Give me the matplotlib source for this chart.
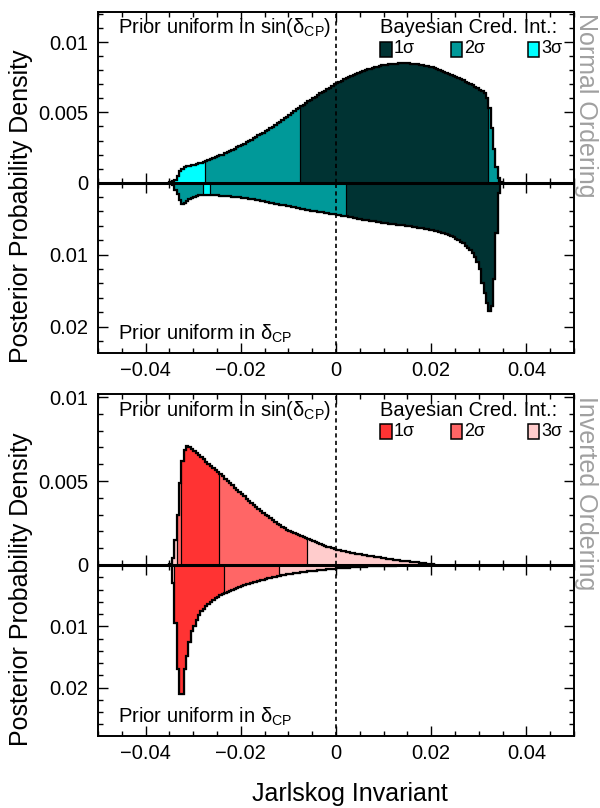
import numpy as np
import matplotlib
matplotlib.use('Agg')
import matplotlib.pyplot as plt
from matplotlib.patches import Rectangle
from matplotlib.ticker import MultipleLocator, FuncFormatter

plt.rcParams['font.family'] = ['Liberation Sans', 'DejaVu Sans']
plt.rcParams['mathtext.fontset'] = 'custom'
plt.rcParams['mathtext.rm'] = 'Liberation Sans'
plt.rcParams['mathtext.it'] = 'Liberation Sans:italic'
plt.rcParams['mathtext.bf'] = 'Liberation Sans:bold'

BIN_W = 0.0005

# posterior density per bin, in units of 1e-3 (bins of BIN_W from the start edge)
# normal ordering, prior uniform in sin(dcp)
no_sin_start = -0.0350
no_sin = [0.05, 0.10, 0.20, 0.50, 0.80, 1.00, 1.10, 1.16, 1.20, 1.24,
          1.28, 1.32, 1.37, 1.42, 1.48, 1.54, 1.60, 1.67, 1.73, 1.80,
          1.86, 1.93, 2.00, 2.08, 2.16, 2.24, 2.32, 2.42, 2.51, 2.60,
          2.69, 2.78, 2.88, 2.97, 3.06, 3.16, 3.26, 3.36, 3.46, 3.56,
          3.66, 3.76, 3.87, 3.99, 4.11, 4.23, 4.35, 4.47, 4.59, 4.70,
          4.83, 4.96, 5.09, 5.22, 5.35, 5.46, 5.57, 5.69, 5.80, 5.91,
          6.03, 6.14, 6.25, 6.36, 6.47, 6.57, 6.68, 6.78, 6.88, 7.00,
          7.09, 7.18, 7.27, 7.36, 7.45, 7.53, 7.61, 7.69, 7.76, 7.84,
          7.91, 7.98, 8.03, 8.08, 8.13, 8.18, 8.23, 8.28, 8.33, 8.36,
          8.39, 8.41, 8.43, 8.45, 8.47, 8.49, 8.50, 8.51, 8.51, 8.51,
          8.50, 8.49, 8.47, 8.46, 8.44, 8.41, 8.38, 8.35, 8.31, 8.27,
          8.22, 8.16, 8.10, 8.04, 7.98, 7.92, 7.85, 7.78, 7.70, 7.62,
          7.54, 7.46, 7.38, 7.29, 7.20, 7.11, 7.03, 6.94, 6.85, 6.74,
          6.64, 6.52, 6.40, 6.05, 5.30, 3.90, 2.40, 1.10, 0.30, 0.05]
no_sin_ci = [(-0.035, -0.0275, 3), (-0.0275, -0.0075, 2), (-0.0075, 0.032, 1),
             (0.032, 0.034, 2), (0.034, 0.035, 3)]

# normal ordering, prior uniform in dcp
no_dcp_start = -0.0350
no_dcp = [0.10, 0.40, 1.00, 1.60, 2.40, 2.95, 2.85, 2.60, 2.35, 2.15,
          1.98, 1.88, 1.80, 1.74, 1.71, 1.69, 1.69, 1.70, 1.73, 1.76,
          1.79, 1.82, 1.85, 1.88, 1.91, 1.94, 1.97, 2.00, 2.04, 2.08,
          2.12, 2.16, 2.20, 2.25, 2.30, 2.35, 2.40, 2.46, 2.53, 2.59,
          2.66, 2.72, 2.79, 2.86, 2.93, 2.99, 3.06, 3.12, 3.19, 3.26,
          3.33, 3.39, 3.46, 3.52, 3.59, 3.66, 3.72, 3.79, 3.84, 3.90,
          3.95, 4.00, 4.06, 4.11, 4.16, 4.21, 4.26, 4.31, 4.36, 4.41,
          4.48, 4.54, 4.60, 4.65, 4.71, 4.77, 4.83, 4.90, 4.96, 5.02,
          5.08, 5.14, 5.19, 5.25, 5.30, 5.35, 5.40, 5.46, 5.51, 5.56,
          5.61, 5.65, 5.70, 5.74, 5.79, 5.84, 5.88, 5.93, 5.97, 6.02,
          6.06, 6.11, 6.16, 6.21, 6.26, 6.31, 6.36, 6.41, 6.47, 6.53,
          6.60, 6.68, 6.77, 6.87, 6.97, 7.08, 7.20, 7.33, 7.47, 7.62,
          7.78, 7.98, 8.20, 8.45, 8.75, 9.05, 9.40, 9.80, 10.3, 11.0,
          12.0, 13.9, 15.3, 16.8, 17.9, 17.2, 13.4, 7.0, 1.4]
no_dcp_ci = [(-0.035, -0.028, 2), (-0.028, -0.0265, 3), (-0.0265, 0.002, 2),
             (0.002, 0.0345, 1)]

# inverted ordering, prior uniform in sin(dcp)
io_sin_start = -0.0350
io_sin = [0.05, 0.40, 1.50, 3.00, 4.86, 6.20, 6.85, 7.08, 7.04, 6.93,
          6.80, 6.68, 6.55, 6.42, 6.29, 6.16, 6.03, 5.90, 5.77, 5.65,
          5.53, 5.40, 5.27, 5.14, 5.01, 4.88, 4.74, 4.61, 4.47, 4.34,
          4.21, 4.08, 3.95, 3.83, 3.71, 3.59, 3.47, 3.35, 3.23, 3.12,
          3.00, 2.89, 2.78, 2.67, 2.56, 2.46, 2.37, 2.28, 2.19, 2.11,
          2.03, 1.96, 1.89, 1.83, 1.77, 1.71, 1.65, 1.59, 1.53, 1.47,
          1.41, 1.36, 1.30, 1.25, 1.20, 1.15, 1.10, 1.05, 1.00, 0.95,
          0.90, 0.87, 0.84, 0.81, 0.78, 0.76, 0.73, 0.70, 0.68, 0.65,
          0.63, 0.61, 0.58, 0.56, 0.54, 0.51, 0.49, 0.47, 0.45, 0.42,
          0.40, 0.38, 0.36, 0.34, 0.32, 0.30, 0.28, 0.26, 0.24, 0.22,
          0.21, 0.19, 0.18, 0.17, 0.15, 0.14, 0.12, 0.10, 0.08, 0.06,
          0.04, 0.02]
io_sin_ci = [(-0.035, -0.0335, 3), (-0.0335, -0.0325, 2), (-0.0325, -0.0245, 1),
             (-0.0245, -0.006, 2), (-0.006, 0.021, 3)]

# inverted ordering, prior uniform in dcp
io_dcp_start = -0.0350
io_dcp = [0.0, 3.0, 9.5, 17.0, 21.1, 21.1, 17.0, 14.9, 12.5, 10.8,
          10.0, 8.9, 8.1, 7.55, 7.1, 6.7, 6.35, 6.0, 5.7, 5.42,
          5.17, 4.93, 4.72, 4.57, 4.40, 4.23, 4.06, 3.90, 3.74, 3.58,
          3.43, 3.29, 3.17, 3.05, 2.93, 2.81, 2.70, 2.59, 2.48, 2.38,
          2.28, 2.19, 2.10, 2.01, 1.93, 1.85, 1.73, 1.66, 1.60, 1.53,
          1.47, 1.41, 1.36, 1.31, 1.26, 1.21, 1.16, 1.11, 1.06, 1.00,
          0.96, 0.92, 0.88, 0.84, 0.80, 0.76, 0.72, 0.68, 0.64, 0.60,
          0.55, 0.52, 0.49, 0.46, 0.43, 0.41, 0.38, 0.36, 0.34, 0.32,
          0.30, 0.28, 0.26, 0.24, 0.22, 0.21, 0.19, 0.18, 0.16, 0.15,
          0.14, 0.13, 0.11, 0.10, 0.09, 0.08, 0.07, 0.06, 0.05, 0.04,
          0.03, 0.02]
io_dcp_ci = [(-0.035, -0.034, 3), (-0.034, -0.0235, 1), (-0.0235, -0.012, 2),
             (-0.012, 0.016, 3)]

no_colors = ['#003333', '#009999', '#00ffff']
io_colors = ['#ff3333', '#ff6666', '#ffcccc']
sigma_labels = ['1\u03c3', '2\u03c3', '3\u03c3']

W, H = 600, 808


def px_axes(fig, top, bottom, left=98, right=574):
    return fig.add_axes([left / W, 1 - bottom / H, (right - left) / W, (bottom - top) / H])


def fmt_tick(v, pos):
    if abs(v) < 1e-12:
        return '0'
    return ('%g' % v).replace('-', '\u2212')


def fmt_lower(v, pos):
    if abs(v) < 1e-12:
        return ''
    return fmt_tick(v, pos)


def draw_hist(ax, start, vals, ci, colors):
    vals = np.asarray(vals) * 1e-3
    edges = start + BIN_W * np.arange(len(vals) + 1)
    centers = 0.5 * (edges[:-1] + edges[1:])
    for x0, x1, level in ci:
        sel = np.where((centers > x0) & (centers < x1))[0]
        if len(sel) == 0:
            continue
        seg_v = vals[sel]
        seg_e = edges[sel[0]:sel[-1] + 2]
        ax.stairs(seg_v, seg_e, baseline=0, fill=True, color=colors[level - 1], lw=0, zorder=2)
        ax.stairs(seg_v, seg_e, baseline=0, fill=False, color='black', lw=0.8, zorder=3)
    ax.stairs(vals, edges, baseline=0, fill=False, color='black', lw=1.6, zorder=3)


def setup(ax, ymax, upper, major, minor, xlabels):
    ax.set_xlim(-0.05, 0.05)
    if upper:
        ax.set_ylim(0, ymax)
        ax.yaxis.set_major_formatter(FuncFormatter(fmt_tick))
    else:
        ax.set_ylim(ymax, 0)
        ax.yaxis.set_major_formatter(FuncFormatter(fmt_lower))
    ax.xaxis.set_major_formatter(FuncFormatter(fmt_tick))
    ax.xaxis.set_major_locator(MultipleLocator(0.02))
    ax.xaxis.set_minor_locator(MultipleLocator(0.005))
    ax.yaxis.set_major_locator(MultipleLocator(major))
    ax.yaxis.set_minor_locator(MultipleLocator(minor))
    ax.tick_params(which='both', direction='in', top=True, right=True,
                   bottom=True, left=True, labelsize=14.5, width=1)
    ax.tick_params(which='major', length=7)
    ax.tick_params(which='minor', length=3.5)
    ax.tick_params(axis='x', labelbottom=xlabels, pad=6)
    ax.tick_params(axis='y', pad=7)
    for sp in ax.spines.values():
        sp.set_linewidth(1.4)
    ax.axvline(0, color='black', lw=1.2, ls=(0, (2.5, 2)), zorder=4)
    ax.axhline(0, color='black', lw=2.2, zorder=5)


def legend(ax, colors):
    ax.text(0.964, 0.873, 'Bayesian Cred. Int.:', transform=ax.transAxes,
            ha='right', va='baseline', fontsize=14.5)
    box_x = [0.5924, 0.741, 0.9027]
    for bx, c, lab in zip(box_x, colors, sigma_labels):
        ax.add_patch(Rectangle((bx, 0.7365), 0.0246, 0.088, transform=ax.transAxes,
                               facecolor=c, edgecolor='black', lw=1.1, zorder=6))
        ax.text(bx + 0.029, 0.7564, lab, transform=ax.transAxes,
                ha='left', va='baseline', fontsize=13)


fig = plt.figure(figsize=(W / 100, H / 100), dpi=100)

panels = [
    # top, zero, bottom, upper max, lower max, data..., colours, side label
    (11.7, 182.5, 353, 0.0122, 0.02368,
     (no_sin_start, no_sin, no_sin_ci), (no_dcp_start, no_dcp, no_dcp_ci),
     no_colors, 'Normal Ordering'),
    (394, 565, 736, 0.01018, 0.0279,
     (io_sin_start, io_sin, io_sin_ci), (io_dcp_start, io_dcp, io_dcp_ci),
     io_colors, 'Inverted Ordering'),
]

for top, zero, bottom, umax, lmax, sin_d, dcp_d, colors, side in panels:
    ax_u = px_axes(fig, top, zero)
    ax_l = px_axes(fig, zero, bottom)
    draw_hist(ax_u, sin_d[0], sin_d[1], sin_d[2], colors)
    draw_hist(ax_l, dcp_d[0], dcp_d[1], dcp_d[2], colors)
    setup(ax_u, umax, True, 0.005, 0.001, False)
    setup(ax_l, lmax, False, 0.01, 0.002, True)

    ax_u.text(0.042, 0.873, 'Prior uniform in sin($\\mathrm{\u03b4_{CP}}$)',
              transform=ax_u.transAxes, ha='left', va='baseline', fontsize=14.5)
    ax_l.text(0.042, 0.076, 'Prior uniform in $\\mathrm{\u03b4_{CP}}$',
              transform=ax_l.transAxes, ha='left', va='baseline', fontsize=14.5)
    legend(ax_u, colors)

    fig.text(586 / W, 1 - (top + 1.5) / H, side, rotation=270, ha='center', va='top',
             fontsize=18, color='#a0a0a0')
    fig.text(21 / W, 1 - (zero + 24) / H, 'Posterior Probability Density',
             rotation=90, ha='center', va='center', fontsize=18)

fig.text(350 / W, 1 - 800.7 / H, 'Jarlskog Invariant', ha='center', va='baseline', fontsize=18)

fig.savefig('out.png', dpi=100)
